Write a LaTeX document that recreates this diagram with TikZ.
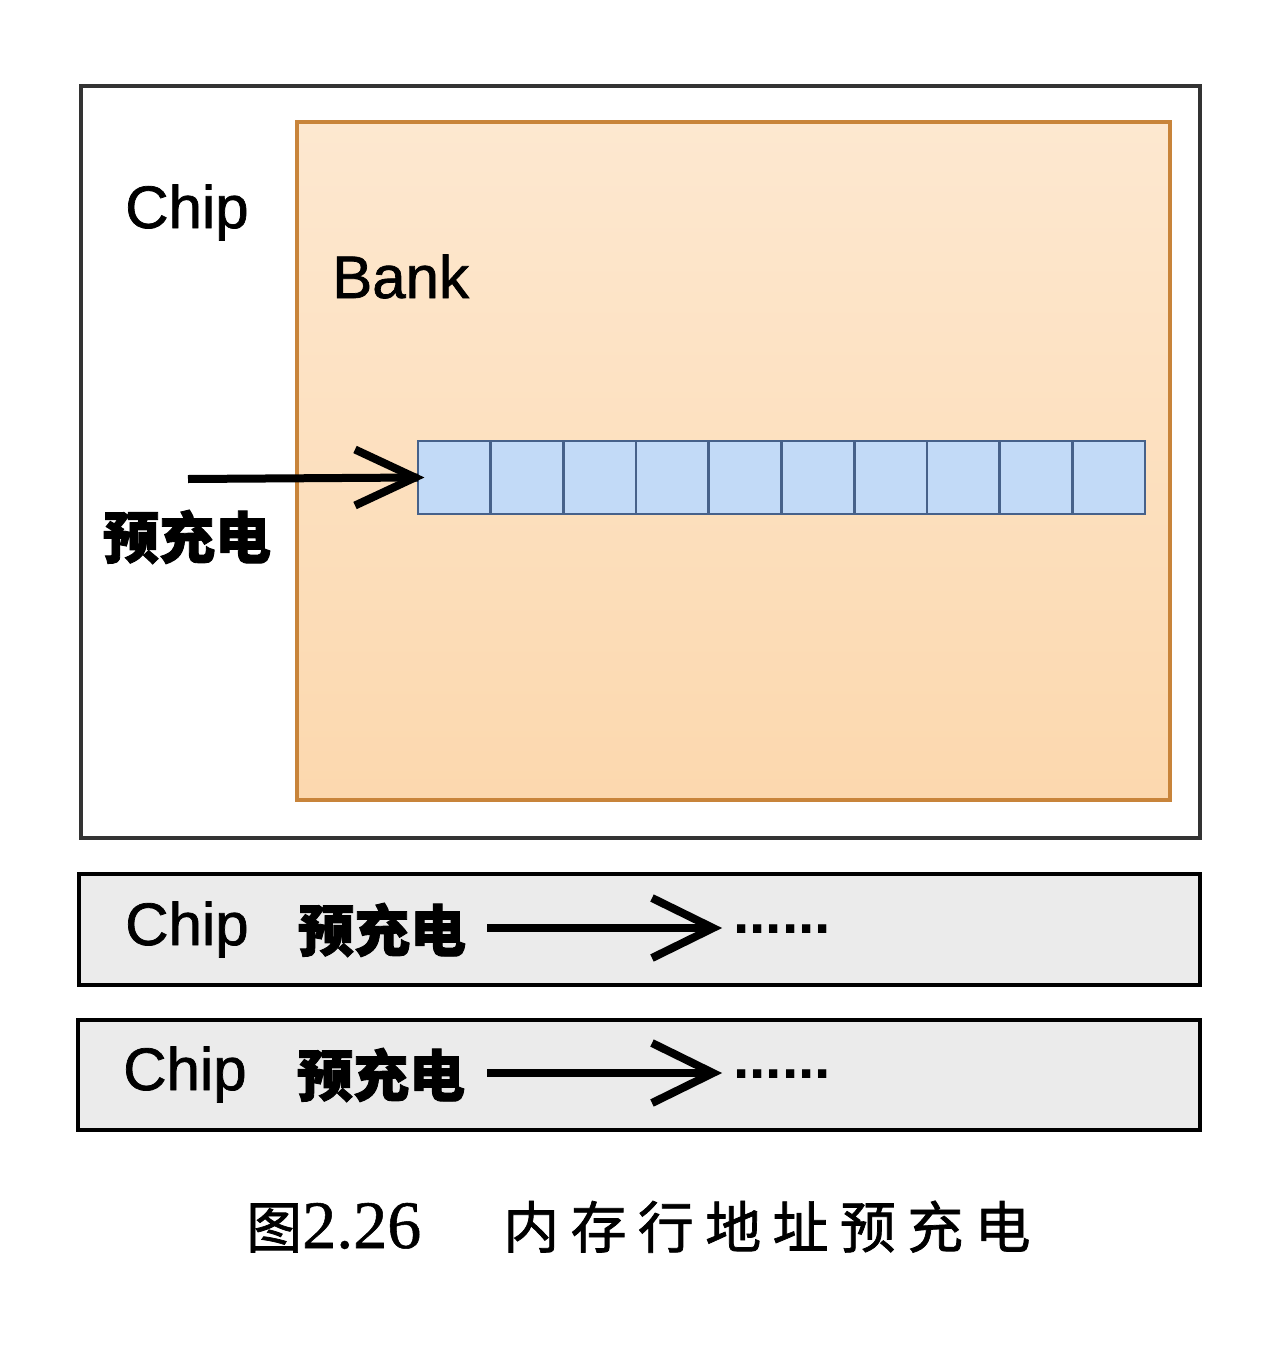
\documentclass[tikz,border=0pt]{standalone}
\usepackage{fontspec}
\setmainfont{Liberation Sans}
\newfontfamily\lblfont{Liberation Sans}[FakeBold=1.2]
\newfontfamily\cjk{Noto Sans CJK SC}
\newfontfamily\cjkheavy{Noto Sans CJK SC}[BoldFeatures={FakeBold=1.6}]
\newfontfamily\cjkcap{Noto Sans CJK SC}[FakeBold=1.3]
\newfontfamily\serifdig{Liberation Serif}[FakeBold=0.8]
\usetikzlibrary{fit,calc}
\definecolor{banktop}{HTML}{FDE8D0}
\definecolor{bankbot}{HTML}{FCD8AE}
\definecolor{bankedge}{HTML}{C8843A}
\definecolor{cellfill}{HTML}{C2DAF7}
\definecolor{celledge}{HTML}{46618A}
\definecolor{barfill}{HTML}{EBEBEB}
\newcommand{\gp}{\hspace{8.5pt}}
\tikzset{
  chipbox/.style={draw=black!80, line width=2.6pt, fill=white, inner sep=0pt},
  bankbox/.style={draw=bankedge, line width=2.8pt, top color=banktop, bottom color=bankbot, inner sep=0pt},
  cellbox/.style={draw=celledge, line width=2pt, fill=cellfill, minimum width=54.5pt, minimum height=54.75pt, inner sep=0pt, outer sep=0pt},
  barbox/.style={draw=black, line width=3pt, fill=barfill, inner sep=0pt},
  lbl/.style={font=\lblfont\fontsize{45}{50}\selectfont, inner sep=0pt},
  cjklbl/.style={font=\cjkheavy\bfseries\fontsize{42}{46}\selectfont, inner sep=0pt},
  shaft/.style={line width=6pt, black},
  chev/.style={line width=6pt, line join=miter, black},
  dotslbl/.style={font=\bfseries\fontsize{44}{48}\selectfont, inner sep=0pt},
  caplbl/.style={inner sep=0pt},
}
\begin{document}
\begin{tikzpicture}[x=0.75pt,y=-0.75pt]
\useasboundingbox (0,0) rectangle (1279,1363);
\fill[white] (0,0) rectangle (1279,1363);

% top chip
\coordinate (chipA) at (81,86);
\coordinate (chipB) at (1200,838);
\node[chipbox, fit=(chipA)(chipB)] (chip) {};
\coordinate (bankA) at (297,122);
\coordinate (bankB) at (1170,800);
\node[bankbox, fit=(bankA)(bankB)] (bank) {};
\node[lbl, anchor=base west] (chiplbl) at (125,228) {Chip};
\node[lbl, anchor=base west] (banklbl) at (332,298) {Bank};

\foreach \i in {1,...,10}
  \node[cellbox] (c\i) at ({418+(\i-0.5)*72.7},477.5) {};

\coordinate (pstart) at (188,479);
\draw[shaft] (pstart) -- (c1.west);
\draw[chev] ($(c1.west)+(-63,-28)$) -- ($(c1.west)+(-3,0)$) -- ($(c1.west)+(-63,28)$);
\node[cjklbl] (pclbl) at (187,537) {预充电};

% bar 1
\coordinate (b1A) at (79,874);
\coordinate (b1B) at (1200,985);
\node[barbox, fit=(b1A)(b1B)] (bar1) {};
\node[lbl, anchor=base west] (chip1) at (125,945) {Chip};
\node[cjklbl] (pc1) at (382,930) {预充电};
\node[dotslbl, anchor=base west] (dots1) at (733,933) {......};
\coordinate (a1s) at (487,928);
\coordinate (a1e) at (713,928);
\draw[shaft] (a1s) -- ($(a1e)+(-4,0)$);
\draw[chev] ($(a1e)+(-61,-30)$) -- (a1e) -- ($(a1e)+(-61,30)$);

% bar 2
\coordinate (b2A) at (78,1020);
\coordinate (b2B) at (1200,1130);
\node[barbox, fit=(b2A)(b2B)] (bar2) {};
\node[lbl, anchor=base west] (chip2) at (123,1090) {Chip};
\node[cjklbl] (pc2) at (381,1075) {预充电};
\node[dotslbl, anchor=base west] (dots2) at (733,1078) {......};
\coordinate (a2s) at (487,1073);
\coordinate (a2e) at (713,1073);
\draw[shaft] (a2s) -- ($(a2e)+(-4,0)$);
\draw[chev] ($(a2e)+(-61,-30)$) -- (a2e) -- ($(a2e)+(-61,30)$);

% caption
\node[caplbl, anchor=base west] (capnum) at (246,1248) {{\cjkcap\fontsize{42}{46}\selectfont 图}{\serifdig\fontsize{51}{56}\selectfont 2.26}};
\node[caplbl, anchor=base west] (captxt) at (503,1248) {\cjkcap\fontsize{42}{46}\selectfont 内\gp 存\gp 行\gp 地\gp 址\gp 预\gp 充\gp 电};
\end{tikzpicture}
\end{document}
